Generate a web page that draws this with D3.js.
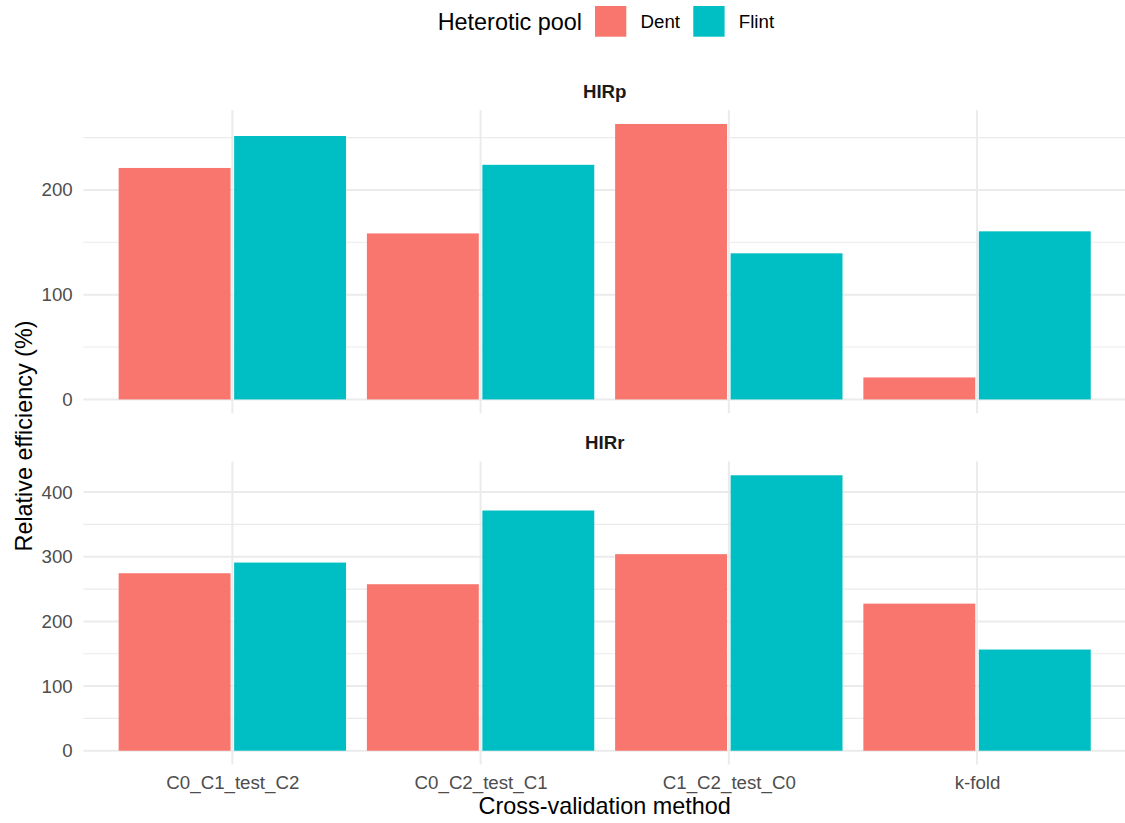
<!DOCTYPE html>
<html>
<head>
<meta charset="utf-8">
<script src="https://cdn.jsdelivr.net/npm/d3@7"></script>
<style>
  html, body { margin: 0; padding: 0; background: #fff; }
  svg { display: block; font-family: "Liberation Sans", Arial, Helvetica, sans-serif; }
</style>
</head>
<body>
<svg id="chart" width="1125" height="823"></svg>
<script>
// Cross-validation schemes on the x axis
const methods = ["C0_C1_test_C2", "C0_C2_test_C1", "C1_C2_test_C0", "k-fold"];
// Heterotic pools (fill groups)
const pools = ["Dent", "Flint"];
const poolColors = ["#F8766D", "#00BFC4"];
// Facets
const facets = ["HIRp", "HIRr"];

// Relative efficiency (%) per facet and pool, in the order of `methods`
const hirpDent  = [221, 158.5, 263, 21];
const hirpFlint = [251.5, 224, 139.5, 160.5];
const hirrDent  = [274.5, 257.5, 304, 227.5];
const hirrFlint = [291, 371.5, 426, 156.5];

// Tick values per facet
const hirpTicks = [0, 100, 200];
const hirrTicks = [0, 100, 200, 300, 400];

const seriesByFacet = {
  HIRp: { Dent: hirpDent, Flint: hirpFlint, ticks: hirpTicks },
  HIRr: { Dent: hirrDent, Flint: hirrFlint, ticks: hirrTicks }
};

const svg = d3.select("#chart");
const W = 1125;

// Layout
const panelLeft = 83.4, panelRight = 1126;
const panelH = 303;
const panelTops = [110.2, 461.5];
const gridCol = "#EBEBEB";
const tickCol = "#4D4D4D";

const x = d3.scalePoint().domain(methods).range([panelLeft, panelRight]).padding(0.6);
const groupW = x.step() * 0.916;
const inner = d3.scaleBand().domain(pools).range([-groupW / 2, groupW / 2]).paddingInner(0.031);
const color = d3.scaleOrdinal().domain(pools).range(poolColors);

facets.forEach((facet, fi) => {
  const s = seriesByFacet[facet];
  const top = panelTops[fi], bottom = top + panelH;
  const maxV = d3.max([...s.Dent, ...s.Flint]);
  const y = d3.scaleLinear().domain([-0.05 * maxV, 1.05 * maxV]).range([bottom, top]);

  const g = svg.append("g");

  // minor gridlines at midpoints between major ticks
  const step = s.ticks[1] - s.ticks[0];
  const minors = s.ticks.map(t => t + step / 2).filter(v => v >= y.domain()[0] && v <= y.domain()[1]);
  g.selectAll(".minor").data(minors).join("line")
    .attr("x1", panelLeft).attr("x2", panelRight)
    .attr("y1", d => y(d)).attr("y2", d => y(d))
    .attr("stroke", gridCol).attr("stroke-width", 1.1);

  // major gridlines
  g.selectAll(".major").data(s.ticks).join("line")
    .attr("x1", panelLeft).attr("x2", panelRight)
    .attr("y1", d => y(d)).attr("y2", d => y(d))
    .attr("stroke", gridCol).attr("stroke-width", 2);

  g.selectAll(".vgrid").data(methods).join("line")
    .attr("x1", d => x(d)).attr("x2", d => x(d))
    .attr("y1", top).attr("y2", bottom)
    .attr("stroke", gridCol).attr("stroke-width", 2);

  // bars
  const rows = [];
  methods.forEach((m, i) => pools.forEach(p => rows.push({ m, p, v: s[p][i] })));
  g.selectAll(".bar").data(rows).join("rect")
    .attr("x", d => x(d.m) + inner(d.p))
    .attr("width", inner.bandwidth())
    .attr("y", d => y(d.v))
    .attr("height", d => y(0) - y(d.v))
    .attr("fill", d => color(d.p));

  // y axis
  const yAxis = g.append("g")
    .attr("transform", `translate(${panelLeft},0)`)
    .call(d3.axisLeft(y).tickValues(s.ticks).tickSize(0).tickPadding(10.7).tickFormat(d3.format("d")));
  yAxis.select(".domain").remove();
  yAxis.selectAll("text")
    .attr("fill", tickCol).style("font-size", "18.7px")
    .style("font-family", "'Liberation Sans', Arial, sans-serif");

  // strip label
  svg.append("text")
    .attr("x", (panelLeft + panelRight) / 2)
    .attr("y", top - 12.5)
    .attr("text-anchor", "middle")
    .attr("fill", "#1A1A1A")
    .style("font-size", "18.7px").style("font-weight", "bold")
    .text(facet);

  // x axis only under the last panel
  if (fi === facets.length - 1) {
    const xAxis = svg.append("g")
      .attr("transform", `translate(0,${bottom})`)
      .call(d3.axisBottom(x).tickSize(0).tickPadding(11.5));
    xAxis.select(".domain").remove();
    xAxis.selectAll("text")
      .attr("fill", tickCol).style("font-size", "18.7px")
      .style("font-family", "'Liberation Sans', Arial, sans-serif");
  }
});

// axis titles
svg.append("text")
  .attr("x", (panelLeft + panelRight) / 2).attr("y", 814)
  .attr("text-anchor", "middle").attr("fill", "#000")
  .style("font-size", "23.4px")
  .text("Cross-validation method");

svg.append("text")
  .attr("transform", "translate(32.3,436) rotate(-90)")
  .attr("text-anchor", "middle").attr("fill", "#000")
  .style("font-size", "23.4px")
  .text("Relative efficiency (%)");

// legend
const legend = svg.append("g");
legend.append("text")
  .attr("x", 437.7).attr("y", 30)
  .attr("fill", "#000").style("font-size", "23.4px")
  .text("Heterotic pool");
const keyX = [595, 693.3];
pools.forEach((p, i) => {
  legend.append("rect")
    .attr("x", keyX[i]).attr("y", 6)
    .attr("width", 31.3).attr("height", 30.7)
    .attr("fill", color(p));
  legend.append("text")
    .attr("x", keyX[i] + 45.5).attr("y", 28)
    .attr("fill", "#000").style("font-size", "18.7px")
    .text(p);
});
</script>
</body>
</html>
